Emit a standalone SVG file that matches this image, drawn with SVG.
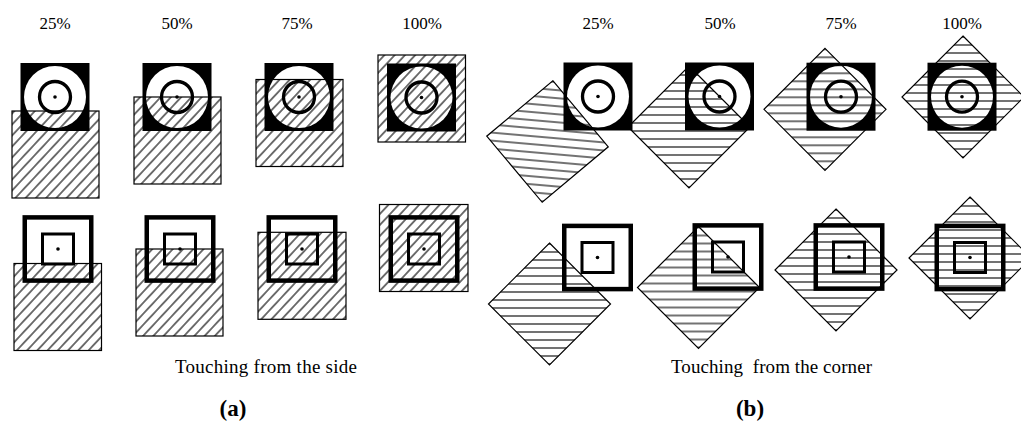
<svg xmlns="http://www.w3.org/2000/svg" width="1021" height="421" viewBox="0 0 1021 421">
<style>
.lbl{font-family:"Liberation Serif","Times New Roman",serif;font-size:17px;fill:#000;text-anchor:middle}
.cap{font-family:"Liberation Serif","Times New Roman",serif;font-size:19px;fill:#000}
.sub{font-family:"Liberation Serif","Times New Roman",serif;font-size:23px;font-weight:bold;fill:#000;text-anchor:middle}
.blk{fill:#000}
.wc{fill:#fff}
.ring{fill:none;stroke:#000;stroke-width:3.3}
.dot{fill:#000}
.osq{fill:none;stroke:#000;stroke-width:4.5}
.isq{fill:none;stroke:#000;stroke-width:3}
.hsq{fill:url(#diag);stroke:#000;stroke-width:1.2}
.hdm{fill:url(#horiz);stroke:#000;stroke-width:1.2}
</style>
<defs>
<pattern id="diag" patternUnits="userSpaceOnUse" width="20" height="7.5" patternTransform="rotate(-47)">
<line x1="0" y1="3.75" x2="20" y2="3.75" stroke="#000" stroke-width="1.1"/>
</pattern>
<pattern id="horiz" patternUnits="userSpaceOnUse" width="20" height="8">
<line x1="0" y1="4" x2="20" y2="4" stroke="#000" stroke-width="1.1"/>
</pattern>
<g id="tc">
<rect class="blk" x="-34.5" y="-34" width="69" height="68"/>
<circle class="wc" r="31"/>
<circle class="ring" r="15.5"/>
<circle class="dot" r="1.8"/>
</g>
<g id="ts">
<rect class="osq" x="-33.25" y="-31.6" width="66.5" height="63.2"/>
<rect class="isq" x="-15.5" y="-15" width="31" height="30"/>
<circle class="dot" r="1.8"/>
</g>
<polygon id="dm" points="0,-61 61,0 0,61 -61,0"/>
</defs>
<rect width="1021" height="421" fill="#fff"/>

<g id="labels">
<text class="lbl" x="55" y="29">25%</text>
<text class="lbl" x="177" y="29">50%</text>
<text class="lbl" x="297" y="29">75%</text>
<text class="lbl" x="422" y="29">100%</text>
<text class="lbl" x="598" y="29">25%</text>
<text class="lbl" x="720" y="29">50%</text>
<text class="lbl" x="841" y="29">75%</text>
<text class="lbl" x="962" y="29">100%</text>
<text class="cap" x="175" y="373" textLength="182" lengthAdjust="spacing">Touching from the side</text>
<text class="cap" x="671" y="373" textLength="201" lengthAdjust="spacing" xml:space="preserve">Touching  from the corner</text>
<text class="sub" x="233" y="416">(a)</text>
<text class="sub" x="750" y="416">(b)</text>
</g>

<!-- Panel (a) top row -->
<g id="a-top-25"><use href="#tc" transform="translate(55,97)"/><rect class="hsq" x="12" y="111" width="87" height="87"/></g>
<g id="a-top-50"><use href="#tc" transform="translate(177,97)"/><rect class="hsq" x="134" y="97" width="87" height="87"/></g>
<g id="a-top-75"><use href="#tc" transform="translate(299,97)"/><rect class="hsq" x="256" y="79.5" width="87" height="87"/></g>
<g id="a-top-100"><use href="#tc" transform="translate(421.5,97.5)"/><rect class="hsq" x="378" y="55" width="87.5" height="87"/></g>

<!-- Panel (a) bottom row -->
<g id="a-bot-25"><use href="#ts" transform="translate(58,249)"/><rect class="hsq" x="14" y="263.5" width="87.5" height="87"/></g>
<g id="a-bot-50"><use href="#ts" transform="translate(180,249)"/><rect class="hsq" x="136" y="249" width="87" height="87"/></g>
<g id="a-bot-75"><use href="#ts" transform="translate(302,249)"/><rect class="hsq" x="258" y="232.3" width="88" height="87"/></g>
<g id="a-bot-100"><use href="#ts" transform="translate(424,249)"/><rect class="hsq" x="379.5" y="204.5" width="88.5" height="87"/></g>

<!-- Panel (b) top row -->
<g id="b-top-25"><use href="#tc" transform="translate(598,96.5)"/><g transform="translate(547.5,141.5) rotate(5)"><use href="#dm" class="hdm"/></g></g>
<g id="b-top-50"><use href="#tc" transform="translate(719.5,96.5)"/><g transform="translate(689,127)"><use href="#dm" class="hdm"/></g></g>
<g id="b-top-75"><use href="#tc" transform="translate(841,96.7)"/><g transform="translate(825,109.3)"><use href="#dm" class="hdm"/></g></g>
<g id="b-top-100"><use href="#tc" transform="translate(962,96.7)"/><g transform="translate(963,97)"><use href="#dm" class="hdm"/></g></g>

<!-- Panel (b) bottom row -->
<g id="b-bot-25"><use href="#ts" transform="translate(597.5,257.5)"/><g transform="translate(549.5,304)"><use href="#dm" class="hdm"/></g></g>
<g id="b-bot-50"><use href="#ts" transform="translate(728,257)"/><g transform="translate(698.5,287.5)"><use href="#dm" class="hdm"/></g></g>
<g id="b-bot-75"><use href="#ts" transform="translate(849,257)"/><g transform="translate(836,270)"><use href="#dm" class="hdm"/></g></g>
<g id="b-bot-100"><use href="#ts" transform="translate(970,257.5)"/><g transform="translate(970,258)"><use href="#dm" class="hdm"/></g></g>

<g id="connectors"/>
</svg>
